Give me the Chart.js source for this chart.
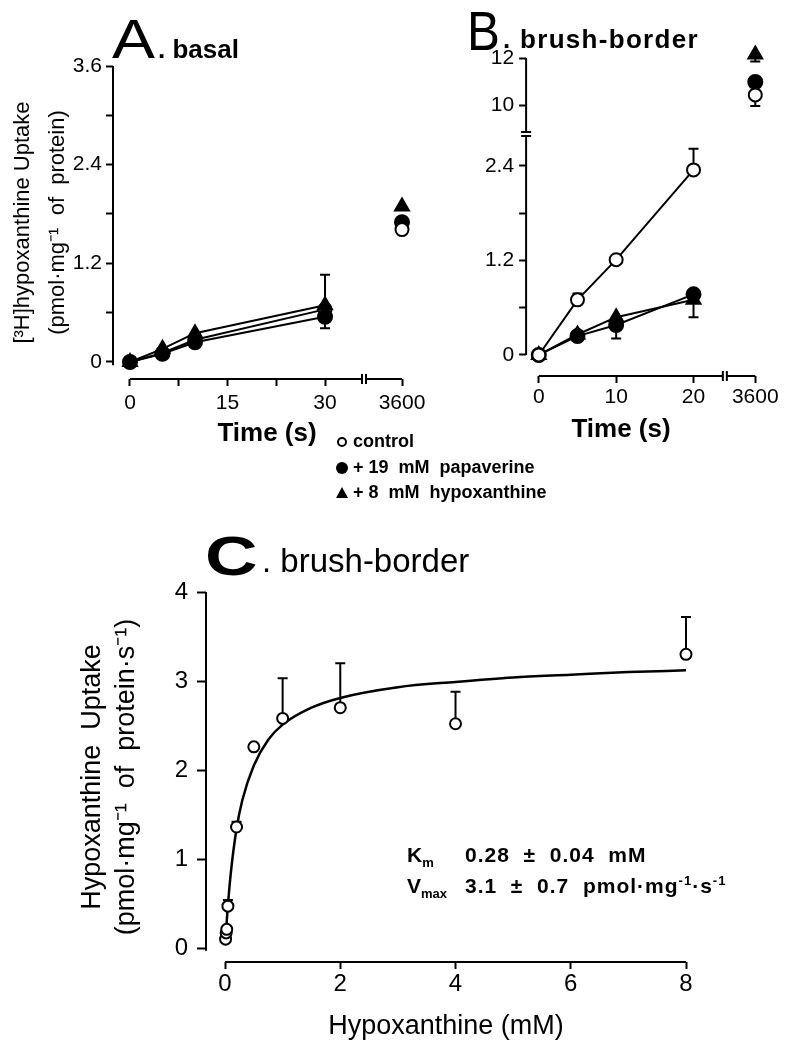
<!DOCTYPE html>
<html>
<head>
<meta charset="utf-8">
<script src="https://cdn.jsdelivr.net/npm/chart.js@4.4.0/dist/chart.umd.min.js"></script>
<style>
  html, body { margin: 0; padding: 0; background: #fff; }
  #page { position: relative; width: 785px; height: 1043px; overflow: hidden; color: #000;
          font-family: 'Liberation Sans', Arial, sans-serif; }
  canvas { position: absolute; }
  .txt { position: absolute; white-space: pre; line-height: 1; }
  .sym { position: absolute; box-sizing: border-box; }
  sub, sup { font-size: 62%; line-height: 0; }
</style>
</head>
<body>
<div id="page">
  <canvas id="chartA" width="440" height="460" style="left:0px;top:0px"></canvas>
  <canvas id="chartB" width="395" height="460" style="left:390px;top:0px"></canvas>
  <canvas id="chartC" width="785" height="523" style="left:0px;top:520px"></canvas>

  <!-- panel titles -->
  <div class="txt" style="left:112px;top:11px;font-size:56px;transform:scaleX(1.15);transform-origin:left">A</div>
  <div class="txt" style="left:158px;top:36px;font-size:26px;font-weight:bold">. basal</div>
  <div class="txt" style="left:467px;top:3px;font-size:56px;transform:scaleX(0.88);transform-origin:left">B</div>
  <div class="txt" style="left:503px;top:26px;font-size:26px;font-weight:bold;letter-spacing:1.3px">. brush-border</div>
  <div class="txt" style="left:205px;top:528px;font-size:56px;font-weight:bold;transform:scaleX(1.3);transform-origin:left">C</div>
  <div class="txt" style="left:262px;top:544px;font-size:33px">. brush-border</div>

  <!-- x axis titles A and B -->
  <div class="txt" style="left:267px;top:419px;font-size:26px;font-weight:bold;transform:translateX(-50%)">Time (s)</div>
  <div class="txt" style="left:621px;top:415px;font-size:26px;font-weight:bold;transform:translateX(-50%)">Time (s)</div>

  <!-- legend -->
  <div class="sym" style="left:337px;top:437px;width:10px;height:10px;border:2px solid #000;border-radius:50%"></div>
  <div class="txt" style="left:353px;top:432px;font-size:18px;font-weight:bold">control</div>
  <div class="sym" style="left:336px;top:462px;width:12px;height:12px;background:#000;border-radius:50%"></div>
  <div class="txt" style="left:353px;top:458px;font-size:18px;font-weight:bold">+ 19  mM  papaverine</div>
  <div class="sym" style="left:336px;top:487px;width:0;height:0;border-left:6px solid transparent;border-right:6px solid transparent;border-bottom:11px solid #000"></div>
  <div class="txt" style="left:353px;top:483px;font-size:18px;font-weight:bold">+ 8  mM  hypoxanthine</div>

  <!-- kinetic constants -->
  <div class="txt" style="left:407px;top:844px;font-size:21px;font-weight:bold">K<sub>m</sub></div>
  <div class="txt" style="left:465px;top:844px;font-size:21px;font-weight:bold;letter-spacing:1px">0.28  ±  0.04  mM</div>
  <div class="txt" style="left:407px;top:875px;font-size:21px;font-weight:bold">V<sub>max</sub></div>
  <div class="txt" style="left:465px;top:875px;font-size:21px;font-weight:bold;letter-spacing:1px">3.1  ±  0.7  pmol·mg<sup>-1</sup>·s<sup>-1</sup></div>
</div>

<script>
// ---------- data ----------
// A. basal uptake, time course (s)
const timeA = [0, 5, 10, 30];
const ctrlA = [0, 0.11, 0.27, 0.64];
const papA = [0, 0.10, 0.24, 0.55];
const hypA = [0, 0.16, 0.35, 0.69];
const papErrA = [0, 0, 0, -0.14];
const hypErrA = [0, 0, 0, 0.37];

// long incubation point (3600 s)
const longTime = [3600];
const ctrlA3600 = [1.61];
const papA3600 = [1.70];
const hypA3600 = [1.89];

// B. brush-border uptake, time course (s)
const timeB = [0, 5, 10, 20];
const ctrlB = [0, 0.70, 1.21, 2.35];
const papB = [0, 0.24, 0.38, 0.77];
const hypB = [0, 0.26, 0.48, 0.70];
const ctrlErrB = [0, 0.08, 0, 0.27];
const papErrB = [0, 0, -0.17, 0];
const hypErrB = [0, 0, 0, -0.22];
const ctrlB3600 = [10.43];
const papB3600 = [10.98];
const hypB3600 = [12.15];
const ctrlErrB3600 = [-0.47];
const hypErrB3600 = [-0.30];

// C. brush-border concentration dependence (mM)
const concC = [0.01, 0.02, 0.03, 0.05, 0.2, 0.5, 1, 2, 4, 8];
const rateC = [0.10, 0.17, 0.21, 0.47, 1.36, 2.26, 2.58, 2.70, 2.52, 3.30];
const errC = [0, 0, 0, 0.07, 0.06, 0, 0.45, 0.50, 0.36, 0.42];
// fitted curve
const fitX = [0.02, 0.05, 0.1, 0.2, 0.3, 0.5, 0.75, 1, 1.5, 2, 3, 4, 5, 6, 7, 8];
const fitY = [0.21, 0.48, 0.84, 1.34, 1.66, 2.05, 2.34, 2.51, 2.70, 2.81, 2.93, 2.99, 3.04, 3.07, 3.10, 3.12];

// ticks
const ticksA_y = [0, 0.6, 1.2, 1.8, 2.4, 3.0, 3.6];
const labelsA_y = [0, 1.2, 2.4, 3.6];
const ticksA_x = [0, 7.5, 15, 22.5, 30];
const labelsA_x = [0, 15, 30];
const ticksB_yLow = [0, 0.6, 1.2, 1.8, 2.4];
const labelsB_yLow = [0, 1.2, 2.4];
const ticksB_yHigh = [10, 12];
const ticksB_x = [0, 10, 20];
const ticksC_y = [0, 1, 2, 3, 4];
const ticksC_x = [0, 2, 4, 6, 8];

// ---------- helpers ----------
const SANS = "'Liberation Sans', Arial, sans-serif";

function pts(xs, ys) {
    return xs.map((x, i) => ({ x: x, y: ys[i] }));
}

function fmt(v) {
    return Number.isInteger(v) ? String(v) : v.toFixed(1);
}

function axis(opts) {
    // linear scale drawn as a detached axis: outward ticks only, no grid
    const o = {
        type: 'linear',
        axis: opts.axis,
        position: opts.position,
        min: opts.min,
        max: opts.max,
        grid: { display: true, drawOnChartArea: false, drawTicks: true,
                tickLength: opts.tickLength || 7, tickWidth: 2, tickColor: '#000' },
        border: { display: false },
        ticks: {
            color: '#000',
            font: { family: SANS, size: opts.size || 21 },
            padding: opts.padding,
            autoSkip: false, maxRotation: 0, minRotation: 0,
            callback: (v) => (opts.labels || opts.ticks).includes(v) ? fmt(v) : ''
        },
        afterBuildTicks: (s) => { s.ticks = opts.ticks.map(v => ({ value: v })); },
        afterFit: (s) => {
            if (opts.width) s.width = opts.width;
            if (opts.height) s.height = opts.height;
        }
    };
    if (opts.stack) {
        o.stack = opts.stack;
        o.stackWeight = opts.stackWeight;
        o.weight = opts.weight;
    }
    if (opts.title) o.title = opts.title;
    return o;
}

function series(data, style, xId, yId, extra) {
    const base = {
        data: data,
        xAxisID: xId,
        yAxisID: yId,
        borderColor: '#000',
        borderWidth: 2,
        pointBorderWidth: 2,
        pointBorderColor: '#000',
        showLine: false,
        clip: false
    };
    if (style === 'open') {
        Object.assign(base, { pointStyle: 'circle', pointRadius: 6.5, pointBackgroundColor: '#fff' });
    } else if (style === 'filled') {
        Object.assign(base, { pointStyle: 'circle', pointRadius: 7, pointBackgroundColor: '#000' });
    } else {
        Object.assign(base, { pointStyle: 'triangle', pointRadius: 8, pointBackgroundColor: '#000' });
    }
    return Object.assign(base, extra || {});
}

// error bars (one-sided, signed value) drawn under the markers
const errorBars = {
    id: 'errorBars',
    beforeDatasetsDraw(chart) {
        const ctx = chart.ctx;
        ctx.save();
        ctx.strokeStyle = '#000';
        ctx.lineWidth = 2;
        chart.data.datasets.forEach((ds, di) => {
            if (!ds.err) return;
            const meta = chart.getDatasetMeta(di);
            const xs = chart.scales[meta.xAxisID];
            const ys = chart.scales[meta.yAxisID];
            ds.data.forEach((p, i) => {
                const e = ds.err[i];
                if (!e) return;
                const px = xs.getPixelForValue(p.x);
                const y0 = ys.getPixelForValue(p.y);
                const y1 = ys.getPixelForValue(p.y + e);
                ctx.beginPath();
                ctx.moveTo(px, y0);
                ctx.lineTo(px, y1);
                ctx.moveTo(px - 5, y1);
                ctx.lineTo(px + 5, y1);
                ctx.stroke();
            });
        });
        ctx.restore();
    }
};

// axis lines that stop at chosen values, plus break marks between stacked scales
const axisLines = {
    id: 'axisLines',
    afterDraw(chart, args, opts) {
        const ctx = chart.ctx;
        ctx.save();
        ctx.strokeStyle = '#000';
        ctx.lineWidth = 2;
        (opts.segments || []).forEach(s => {
            const sc = chart.scales[s.id];
            ctx.beginPath();
            if (sc.isHorizontal()) {
                ctx.moveTo(sc.getPixelForValue(s.from), sc.top);
                ctx.lineTo(sc.getPixelForValue(s.to), sc.top);
            } else {
                ctx.moveTo(sc.right, sc.getPixelForValue(s.from));
                ctx.lineTo(sc.right, sc.getPixelForValue(s.to));
            }
            ctx.stroke();
        });
        (opts.breaks || []).forEach(b => {
            const sc = chart.scales[b.id];
            ctx.beginPath();
            if (sc.isHorizontal()) {
                [sc.right, sc.right + 4].forEach(x => {
                    ctx.moveTo(x, sc.top - 5);
                    ctx.lineTo(x, sc.top + 5);
                });
            } else {
                [sc.top - 2, sc.top + 2].forEach(y => {
                    ctx.moveTo(sc.right - 5, y);
                    ctx.lineTo(sc.right + 5, y);
                });
            }
            ctx.stroke();
        });
        ctx.restore();
    }
};

const baseOptions = {
    responsive: false,
    animation: false,
    events: [],
    plugins: { legend: { display: false }, tooltip: { enabled: false } }
};

// ---------- A. basal ----------
new Chart(document.getElementById('chartA'), {
    type: 'scatter',
    data: {
        datasets: [
            series(pts(timeA, papA), 'filled', 'x1', 'y', { showLine: true, err: papErrA }),
            series(pts(timeA, hypA), 'triangle', 'x1', 'y', { showLine: true, err: hypErrA }),
            series(pts(timeA, ctrlA), 'open', 'x1', 'y', { showLine: true }),
            series(pts(longTime, ctrlA3600), 'open', 'x2', 'y'),
            series(pts(longTime, papA3600), 'filled', 'x2', 'y'),
            series(pts(longTime, hypA3600), 'triangle', 'x2', 'y')
        ]
    },
    options: Object.assign({}, baseOptions, {
        layout: { autoPadding: false, padding: { left: 0, top: 66, right: 34, bottom: 41 } },
        scales: {
            x1: axis({ axis: 'x', position: 'bottom', min: -2.615, max: 35.69, ticks: ticksA_x, labels: labelsA_x,
                       padding: 5, height: 40, stack: 'xA', stackWeight: 249, weight: 0 }),
            x2: axis({ axis: 'x', position: 'bottom', min: 3590, max: 3601, ticks: longTime,
                       padding: 5, height: 40, stack: 'xA', stackWeight: 44, weight: 1 }),
            y: axis({ axis: 'y', position: 'left', min: -0.207, max: 3.6, ticks: ticksA_y, labels: labelsA_y,
                      padding: 4, width: 113,
                      title: { display: true, color: '#000',
                               text: ['[³H]hypoxanthine Uptake', '(pmol·mg⁻¹  of  protein)'],
                               font: { family: SANS, size: 22, lineHeight: 1.6 },
                               padding: { top: 5, bottom: 0 } } })
        },
        plugins: Object.assign({}, baseOptions.plugins, {
            axisLines: {
                segments: [{ id: 'y', from: -0.04, to: 3.6 }, { id: 'x1', from: 0, to: 35.69 }, { id: 'x2', from: 3591, to: 3600 }],
                breaks: [{ id: 'x1' }]
            }
        })
    }),
    plugins: [errorBars, axisLines]
});

// ---------- B. brush-border ----------
new Chart(document.getElementById('chartB'), {
    type: 'scatter',
    data: {
        datasets: [
            series(pts(timeB, ctrlB), 'open', 'x1', 'yLow', { showLine: true, err: ctrlErrB }),
            series(pts(timeB, papB), 'filled', 'x1', 'yLow', { showLine: true, err: papErrB }),
            series(pts(timeB, hypB), 'triangle', 'x1', 'yLow', { showLine: true, err: hypErrB }),
            series(pts(longTime, ctrlB3600), 'open', 'x2', 'yHigh', { err: ctrlErrB3600 }),
            series(pts(longTime, papB3600), 'filled', 'x2', 'yHigh'),
            series(pts(longTime, hypB3600), 'triangle', 'x2', 'yHigh', { err: hypErrB3600 })
        ]
    },
    options: Object.assign({}, baseOptions, {
        layout: { autoPadding: false, padding: { left: 0, top: 58, right: 23, bottom: 44 } },
        scales: {
            x1: axis({ axis: 'x', position: 'bottom', min: -1.64, max: 23.79, ticks: ticksB_x,
                       padding: 2, height: 40, stack: 'xB', stackWeight: 248, weight: 0 }),
            x2: axis({ axis: 'x', position: 'bottom', min: 3590, max: 3601, ticks: longTime,
                       padding: 2, height: 40, stack: 'xB', stackWeight: 45, weight: 1 }),
            yLow: axis({ axis: 'y', position: 'left', min: -0.267, max: 2.806, ticks: ticksB_yLow, labels: labelsB_yLow,
                         padding: 5, width: 79, stack: 'yB', stackWeight: 242, weight: 0 }),
            yHigh: axis({ axis: 'y', position: 'left', min: 8.766, max: 12, ticks: ticksB_yHigh,
                          padding: 5, width: 79, stack: 'yB', stackWeight: 76, weight: 1 })
        },
        plugins: Object.assign({}, baseOptions.plugins, {
            axisLines: {
                segments: [{ id: 'yLow', from: 0, to: 2.78 }, { id: 'yHigh', from: 8.85, to: 12 },
                           { id: 'x1', from: 0, to: 23.79 }, { id: 'x2', from: 3591, to: 3600 }],
                breaks: [{ id: 'x1' }, { id: 'yLow' }]
            }
        })
    }),
    plugins: [errorBars, axisLines]
});

// ---------- C. brush-border, concentration dependence ----------
new Chart(document.getElementById('chartC'), {
    type: 'scatter',
    data: {
        datasets: [
            series(pts(concC, rateC), 'open', 'x', 'y', { pointRadius: 5.5, err: errC }),
            {
                data: pts(fitX, fitY), xAxisID: 'x', yAxisID: 'y', showLine: true,
                borderColor: '#000', borderWidth: 2.5, pointRadius: 0,
                cubicInterpolationMode: 'monotone', clip: false
            }
        ]
    },
    options: Object.assign({}, baseOptions, {
        layout: { autoPadding: false, padding: { left: 0, top: 72, right: 99, bottom: 0 } },
        scales: {
            x: axis({ axis: 'x', position: 'bottom', min: -0.33, max: 8, ticks: ticksC_x,
                      size: 24, padding: 1, height: 81,
                      title: { display: true, color: '#000', text: 'Hypoxanthine (mM)',
                               font: { family: SANS, size: 27, lineHeight: 1.2 },
                               padding: { top: 0, bottom: 0 } } }),
            y: axis({ axis: 'y', position: 'left', min: -0.157, max: 4, ticks: ticksC_y,
                      size: 24, padding: 9, tickLength: 9, width: 206,
                      title: { display: true, color: '#000',
                               text: ['Hypoxanthine  Uptake', '(pmol·mg⁻¹  of  protein·s⁻¹)'],
                               font: { family: SANS, size: 27, lineHeight: 1.26 },
                               padding: { top: 76, bottom: 0 } } })
        },
        plugins: Object.assign({}, baseOptions.plugins, {
            axisLines: {
                segments: [{ id: 'y', from: -0.03, to: 4 }, { id: 'x', from: 0, to: 8 }]
            }
        })
    }),
    plugins: [errorBars, axisLines]
});
</script>
</body>
</html>
